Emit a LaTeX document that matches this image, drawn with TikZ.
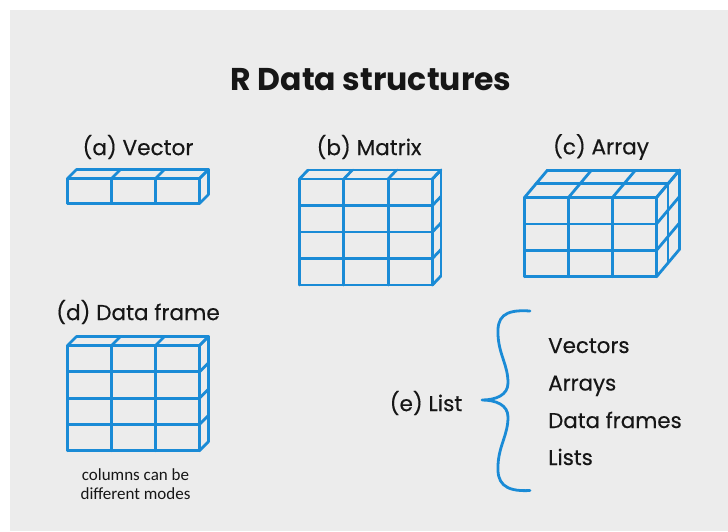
\documentclass[tikz,border=0pt]{standalone}
\usepackage{fontspec}
\setmainfont{Poppins}
\newfontfamily\labelfont[FakeBold=0.35]{Poppins}
\newfontfamily\notefont{Carlito}
\definecolor{panel}{HTML}{ECECEC}
\definecolor{cubeblue}{HTML}{1A8BD6}
\definecolor{ink}{HTML}{161616}
% \drawcuboid{x0}{y0}{cols}{rows}{w}{h}{dx}{dy}{depth}
\newcommand\drawcuboid[9]{%
  \pgfmathsetmacro\cxa{#1+#3*#5}%
  \pgfmathsetmacro\cyb{#2+#4*#6}%
  % front grid
  \foreach \i in {0,...,#3}{\draw[cubeline] ({#1+\i*#5},#2) -- ({#1+\i*#5},\cyb);}
  \foreach \k in {0,...,#4}{\draw[cubeline] (#1,{#2+\k*#6}) -- (\cxa,{#2+\k*#6});}
  % top face
  \foreach \i in {0,...,#3}{\draw[cubeline] ({#1+\i*#5},#2) -- ({#1+\i*#5+#9*#7},{#2+#9*#8});}
  \foreach \j in {1,...,#9}{\draw[cubeline] ({#1+\j*#7},{#2+\j*#8}) -- ({\cxa+\j*#7},{#2+\j*#8});}
  % right face
  \foreach \k in {0,...,#4}{\draw[cubeline] (\cxa,{#2+\k*#6}) -- ({\cxa+#9*#7},{#2+\k*#6+#9*#8});}
  \foreach \j in {1,...,#9}{\draw[cubeline] ({\cxa+\j*#7},{#2+\j*#8}) -- ({\cxa+\j*#7},{\cyb+\j*#8});}
}
\tikzset{
  cubeline/.style={draw=cubeblue, line width=2.8pt, line cap=round, line join=round},
  label/.style={text=ink, font=\labelfont\fontsize{21.6}{26}\selectfont, inner sep=0pt},
  item/.style={text=ink, font=\labelfont\fontsize{21.4}{26}\selectfont, inner sep=0pt, anchor=base west},
  titletext/.style={text=ink, font=\fontsize{31.5}{36}\selectfont\bfseries, inner sep=0pt},
  note/.style={text=ink, font=\notefont\fontsize{17}{18.5}\selectfont, align=center, inner sep=0pt},
  bracepath/.style={draw=cubeblue, line width=2.8pt, line cap=round, line join=round}
}
\begin{document}
\begin{tikzpicture}[x=1pt,y=-1pt]
\useasboundingbox (0,0) rectangle (728,531);
\fill[white] (0,0) rectangle (728,531);
\fill[panel] (10,10) rectangle (728,531);

\node[titletext] (title) at (371,80) {R Data structures};

\node[label] (la) at (138,147) {(a) Vector};
\node[label] (lb) at (369,147) {(b) Matrix};
\node[label] (lc) at (601,147) {(c) Array};
\node[label] (ld) at (138,312) {(d) Data frame};

% (a) vector
\drawcuboid{67.5}{178.5}{3}{1}{44}{25}{9}{-9}{1}
% (b) matrix
\drawcuboid{299.5}{179}{3}{4}{44.3}{26.5}{8.5}{-9}{1}
% (c) array
\drawcuboid{524.5}{197.5}{3}{3}{44}{26.4}{11.5}{-13.7}{2}
% (d) data frame
\drawcuboid{67.5}{345.5}{3}{4}{44}{26.3}{9}{-9}{1}

\node[note] (dnote) at (135.5,484) {columns can be\\different modes};

% (e) list
\node[label] (le) at (426,403) {(e) List};
\coordinate (btop) at (530,311);
\coordinate (btip) at (482,400);
\coordinate (bbot) at (530,490.5);
\draw[bracepath] (btop) .. controls (503,309) and (497,318) .. (498,335)
  .. controls (499,355) and (508,365) .. (508,383)
  .. controls (508,395) and (496,400) .. (btip)
  .. controls (496,400) and (508,405) .. (508,417)
  .. controls (508,435) and (499,445) .. (498,465)
  .. controls (497,482) and (503,492) .. (bbot);

\node[item] (i1) at (548,353) {Vectors};
\node[item] (i2) at (548,390.5) {Arrays};
\node[item] (i3) at (548,428) {Data frames};
\node[item] (i4) at (548,465) {Lists};
\end{tikzpicture}
\end{document}
